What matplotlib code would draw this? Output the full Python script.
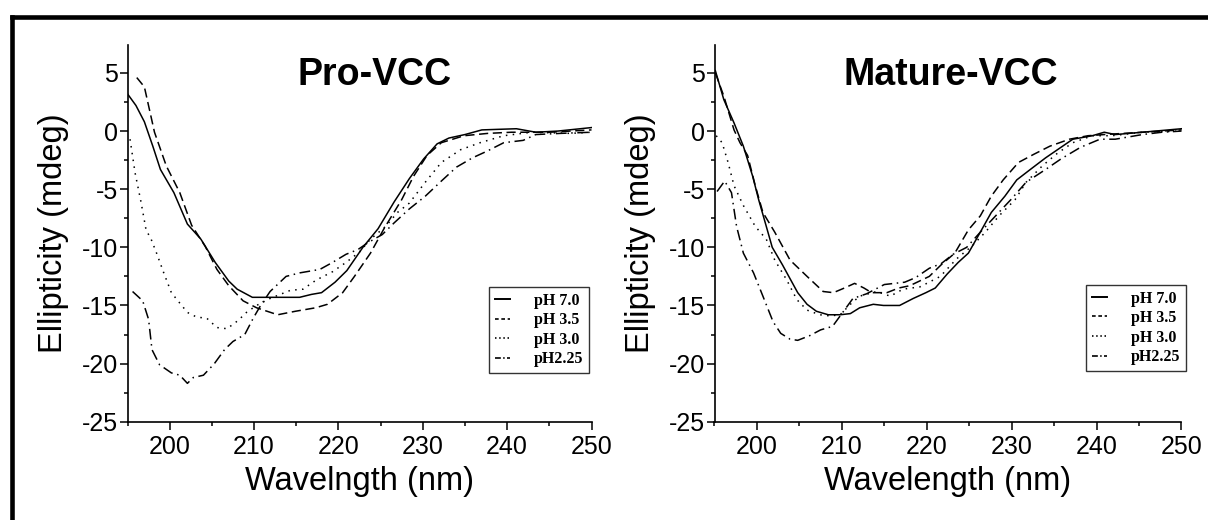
import matplotlib
matplotlib.use("Agg")
import matplotlib.pyplot as plt
from matplotlib.lines import Line2D
from matplotlib.ticker import MultipleLocator

plt.rcParams['font.family'] = ['Liberation Sans', 'DejaVu Sans']
plt.rcParams['axes.unicode_minus'] = False

# ---- Pro-VCC ----
pro_ph70_x = [195, 196, 197, 198, 198.9, 200.5, 202.1, 203.7, 205.4, 207.0, 208.0, 209.8, 212, 215.4,
              216.8, 218, 219.6, 221, 222.9, 224.7, 226.6, 228.4, 230.1, 231.7, 233.1, 235, 237, 239,
              241.1, 243.4, 246, 250]
pro_ph70_y = [3.2, 2.2, 0.8, -1.3, -3.3, -5.3, -8.0, -9.3, -11.3, -12.9, -13.6, -14.3, -14.3, -14.3,
              -14.05, -13.9, -13.0, -12.0, -10.0, -8.4, -6.1, -4.1, -2.4, -1.1, -0.6, -0.3, 0.1, 0.15,
              0.2, -0.1, 0.0, 0.3]

pro_ph35_x = [196.1, 197.0, 198.2, 199.6, 201.2, 202.6, 204.2, 205.6, 207, 208.7, 210.3, 212.8, 214.9,
              217.3, 218.7, 220.5, 221.9, 223.8, 225.4, 227.5, 228.9, 230.5, 232.2, 234.9, 237.7, 240.5,
              245, 250]
pro_ph35_y = [4.6, 3.8, -0.1, -3.0, -5.3, -8.1, -9.9, -11.9, -13.3, -14.6, -15.2, -15.8, -15.5,
              -15.2, -14.9, -13.9, -12.5, -10.5, -8.4, -5.9, -3.9, -2.1, -1.0, -0.4, -0.2, -0.1,
              -0.1, 0.1]

pro_ph30_x = [195.3, 195.9, 196.6, 197.2, 197.8, 198.5, 199.3, 200.2, 201.2, 202.1, 203.2, 204.4, 205.6,
              206.8, 208.1, 209.1, 210.3, 211.9, 214.3, 215.8, 217.4, 219.3, 220.9, 222.5, 223.8, 225.6,
              227, 228.4, 230.3, 232.2, 234.5, 236.8, 239.6, 242.9, 247.5, 250]
pro_ph30_y = [-0.7, -3.6, -6.1, -8.5, -9.3, -10.6, -12.2, -13.9, -14.8, -15.6, -16.0, -16.1, -16.9,
              -17.0, -16.3, -15.6, -15.0, -14.4, -13.7, -13.6, -12.8, -12.1, -11.3, -10.4, -9.3, -8.2,
              -7.0, -6.2, -4.4, -2.7, -1.6, -1.0, -0.4, -0.1, -0.2, -0.1]

pro_ph225_x = [195.6, 196.8, 197.5, 197.9, 198.8, 200.2, 201.2, 202.1, 202.8, 204.0, 205.3, 206.5, 207.5,
               208.9, 209.9, 210.7, 211.9, 213.8, 215.4, 217.8, 219.3, 220.9, 222.3, 223.5, 225.2, 226.6,
               228.4, 230.3, 232.2, 234.0, 235.9, 237.7, 239.6, 241.9, 243.4, 246.3, 250]
pro_ph225_y = [-13.8, -14.6, -16.2, -18.8, -20.1, -20.8, -21.0, -21.7, -21.2, -21.0, -20.0, -18.8, -18.1,
               -17.5, -16.1, -15.1, -13.8, -12.5, -12.2, -11.9, -11.3, -10.6, -10.2, -9.6, -8.9, -7.9,
               -6.7, -5.6, -4.3, -3.1, -2.3, -1.7, -1.0, -0.8, -0.3, -0.2, -0.1]

# ---- Mature-VCC ----
mat_ph70_x = [195.1, 196.1, 197.3, 198.4, 199.5, 200.2, 201.1, 201.8, 203.0, 203.9, 204.8, 205.9, 207.0,
              208.4, 209.8, 211.0, 212.1, 213.7, 214.9, 216.8, 218.4, 219.9, 221.0, 222.4, 223.7, 224.9,
              226.3, 227.6, 229.2, 230.6, 232.2, 234.0, 235.8, 237.2, 239.5, 240.9, 242.2, 245.4, 250]
mat_ph70_y = [5.2, 2.7, 0.7, -1.3, -3.9, -5.9, -8.2, -10.0, -11.5, -12.7, -13.9, -14.9, -15.5,
              -15.8, -15.8, -15.7, -15.2, -14.9, -15.0, -15.0, -14.4, -13.9, -13.5, -12.3, -11.3, -10.5,
              -8.7, -7.0, -5.6, -4.2, -3.3, -2.3, -1.4, -0.7, -0.4, -0.1, -0.3, -0.1, 0.2]

mat_ph35_x = [195.1, 196.1, 197.3, 198.0, 198.9, 199.8, 200.7, 202.1, 203.9, 205.9, 207.8, 209.0, 210.3,
              211.5, 212.6, 213.5, 215.3, 216.7, 218.0, 220.3, 221.7, 223.3, 224.9, 226.3, 227.6, 229.0,
              230.8, 232.6, 234.5, 236.8, 239.0, 240.9, 245.4, 250]
mat_ph35_y = [5.0, 3.0, 0.1, -1.0, -2.1, -4.7, -7.0, -8.7, -11.1, -12.5, -13.8, -13.9, -13.5,
              -13.1, -13.5, -13.9, -13.9, -13.5, -13.3, -12.5, -11.5, -10.5, -8.5, -7.3, -5.6, -4.2,
              -2.7, -2.0, -1.3, -0.7, -0.4, -0.3, -0.1, 0.1]

mat_ph30_x = [195.2, 195.9, 196.6, 197.3, 198.4, 199.8, 201.1, 202.1, 203.5, 204.7, 205.9, 207.4, 208.6,
              209.8, 211.0, 212.1, 214.1, 215.7, 217.2, 219.2, 221.6, 223.5, 225.3, 226.9, 228.5, 230.4,
              231.7, 233.6, 235.4, 237.2, 239.5, 241.8, 245.4, 250]
mat_ph30_y = [-0.4, -1.0, -2.7, -4.7, -6.4, -8.2, -9.3, -11.1, -12.8, -14.5, -15.4, -15.8, -15.9,
              -15.8, -14.9, -14.2, -13.8, -14.2, -13.6, -13.4, -12.5, -11.0, -9.9, -8.7, -7.3, -5.9,
              -4.4, -3.0, -1.9, -1.0, -0.4, -0.4, -0.1, 0.0]

mat_ph225_x = [195.3, 196.2, 197.0, 197.6, 198.4, 199.6, 200.7, 201.9, 202.8, 203.9, 204.8, 206.2, 207.5,
               208.9, 210.1, 211.3, 212.9, 215.0, 217.4, 218.7, 220.3, 221.7, 223.1, 224.7, 226.3, 228.1,
               229.9, 231.7, 234.0, 235.8, 238.1, 240.4, 242.2, 245.4, 247.7, 250]
mat_ph225_y = [-5.2, -4.3, -5.3, -8.2, -10.5, -12.2, -14.2, -16.4, -17.4, -17.9, -18.0, -17.6, -17.1,
               -16.8, -15.6, -14.4, -14.0, -13.2, -13.0, -12.6, -11.8, -11.4, -10.6, -10.0, -8.7, -7.3,
               -5.9, -4.4, -3.3, -2.4, -1.4, -0.7, -0.7, -0.3, -0.1, 0.0]

labels = ['pH 7.0', 'pH 3.5', 'pH 3.0', 'pH2.25']
styles = ['-', (0, (6, 3)), (0, (1, 3.5)), (0, (7, 3, 1, 3))]
# finer patterns for the short legend keys
key_styles = ['-', (0, (2.2, 1.6)), (0, (0.9, 1.6)), (0, (3.5, 1.4, 0.9, 1.4))]

panels = [
    ('Pro-VCC', 'Wavelngth (nm)',
     [(pro_ph70_x, pro_ph70_y), (pro_ph35_x, pro_ph35_y), (pro_ph30_x, pro_ph30_y), (pro_ph225_x, pro_ph225_y)],
     [127.5 / 1208, 0.189, 464 / 1208, 0.7244], 0.533, (0.995, 0.357)),
    ('Mature-VCC', 'Wavelength (nm)',
     [(mat_ph70_x, mat_ph70_y), (mat_ph35_x, mat_ph35_y), (mat_ph30_x, mat_ph30_y), (mat_ph225_x, mat_ph225_y)],
     [714.5 / 1208, 0.189, 467 / 1208, 0.7244], 0.506, (1.01, 0.363)),
]

fig = plt.figure(figsize=(12.08, 5.2), dpi=100)

for title, xlab, series, rect, tx, lanchor in panels:
    ax = fig.add_axes(rect)
    for (x, y), ls in zip(series, styles):
        ax.plot(x, y, color='black', linestyle=ls, lw=1.1)
    ax.set_xlim(195, 250)
    ax.set_ylim(-25, 7.4)
    ax.xaxis.set_major_locator(MultipleLocator(10))
    ax.xaxis.set_minor_locator(MultipleLocator(5))
    ax.yaxis.set_major_locator(MultipleLocator(5))
    ax.yaxis.set_minor_locator(MultipleLocator(2.5))
    for s in ['top', 'right']:
        ax.spines[s].set_visible(False)
    for s in ['left', 'bottom']:
        ax.spines[s].set_linewidth(1.2)
    ax.tick_params(which='major', length=5.5, width=1.1, labelsize=18)
    ax.tick_params(axis='x', which='major', pad=4)
    ax.tick_params(axis='y', which='major', pad=1.5)
    ax.tick_params(which='minor', length=3, width=1.1)
    ax.set_xlabel(xlab, fontsize=23.5, labelpad=5)
    ax.set_ylabel('Ellipticity (mdeg)', fontsize=23.5, labelpad=9)
    ax.text(tx, 0.894, title, transform=ax.transAxes, ha='center', va='baseline',
            fontsize=27, fontweight='bold')
    keys = [Line2D([], [], color='black', lw=1.4 if ks == '-' else 1.2, linestyle=ks) for ks in key_styles]
    leg = ax.legend(keys, labels, loc='upper right', bbox_to_anchor=lanchor, borderaxespad=0,
                    prop={'family': 'Liberation Serif', 'weight': 'bold', 'size': 11.5},
                    fancybox=False, framealpha=1, edgecolor='#333333',
                    handlelength=0.95, handletextpad=1.5, labelspacing=0.22,
                    borderpad=0.35)
    leg.get_frame().set_linewidth(1.0)

# outer frame (top and left edges visible)
fig.add_artist(Line2D([12 / 1208, 12 / 1208], [0, 1 - 16.5 / 520], transform=fig.transFigure,
                      color='black', lw=3.3, solid_capstyle='projecting'))
fig.add_artist(Line2D([12 / 1208, 1], [1 - 16.5 / 520, 1 - 16.5 / 520], transform=fig.transFigure,
                      color='black', lw=3.3, solid_capstyle='projecting'))

fig.savefig('out.png', dpi=100)
